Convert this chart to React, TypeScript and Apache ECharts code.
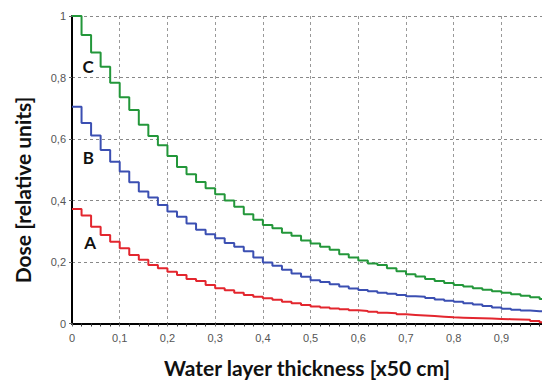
import React, { useEffect, useRef } from "react";
import * as echarts from "echarts";

const thickness = [
  0, 0.02, 0.04, 0.06, 0.08, 0.1, 0.12, 0.14, 0.16, 0.18,
  0.2, 0.22, 0.24, 0.26, 0.28, 0.3, 0.32, 0.34, 0.36, 0.38,
  0.4, 0.42, 0.44, 0.46, 0.48, 0.5, 0.52, 0.54, 0.56, 0.58,
  0.6, 0.62, 0.64, 0.66, 0.68, 0.7, 0.72, 0.74, 0.76, 0.78,
  0.8, 0.82, 0.84, 0.86, 0.88, 0.9, 0.92, 0.94, 0.96, 0.98, 1.0,
];

const doseC = [
  1.0, 0.938, 0.881, 0.835, 0.783, 0.736, 0.694, 0.646, 0.61, 0.58,
  0.545, 0.509, 0.485, 0.46, 0.44, 0.42, 0.4, 0.38, 0.355, 0.337,
  0.32, 0.31, 0.295, 0.285, 0.27, 0.26, 0.25, 0.24, 0.225, 0.215,
  0.205, 0.195, 0.19, 0.18, 0.17, 0.16, 0.153, 0.145, 0.138, 0.132,
  0.125, 0.12, 0.115, 0.11, 0.105, 0.1, 0.095, 0.09, 0.085, 0.08, 0.078,
];

const doseB = [
  0.705, 0.652, 0.611, 0.564, 0.526, 0.494, 0.459, 0.429, 0.41, 0.385,
  0.364, 0.347, 0.325, 0.305, 0.29, 0.277, 0.262, 0.25, 0.235, 0.215,
  0.198, 0.188, 0.175, 0.163, 0.152, 0.141, 0.135, 0.128, 0.12, 0.114,
  0.109, 0.105, 0.1, 0.097, 0.093, 0.089, 0.087, 0.083, 0.078, 0.074,
  0.071, 0.066, 0.062, 0.057, 0.052, 0.048, 0.045, 0.042, 0.04, 0.038, 0.038,
];

const doseA = [
  0.372, 0.351, 0.315, 0.288, 0.266, 0.245, 0.223, 0.207, 0.19, 0.18,
  0.168, 0.158, 0.145, 0.138, 0.125, 0.115, 0.108, 0.1, 0.093, 0.087,
  0.082, 0.077, 0.071, 0.066, 0.06, 0.055, 0.052, 0.049, 0.046, 0.043,
  0.041, 0.038, 0.035, 0.033, 0.03, 0.028, 0.026, 0.024, 0.022, 0.02,
  0.019, 0.018, 0.017, 0.016, 0.015, 0.014, 0.013, 0.012, 0.008, 0.004, 0.004,
];

const seriesNames = ["A", "B", "C"];
const seriesColors = ["#e3262e", "#3b4fb2", "#23973a"];
const labelPos = [
  [0.038, 0.262],
  [0.034, 0.541],
  [0.034, 0.837],
];

const xTitle = "Water layer thickness [x50 cm]";
const yTitle = "Dose [relative units]";

const fmt = (v: number) => String(Math.round(v * 10) / 10).replace(".", ",");

export default function App() {
  const ref = useRef<HTMLDivElement>(null);
  useEffect(() => {
    if (!ref.current) return;
    const chart = echarts.init(ref.current, null, { renderer: "svg" });
    const allData = [doseA, doseB, doseC];
    const series = allData.map((d, i) => ({
      name: seriesNames[i],
      type: "line",
      step: "end",
      showSymbol: false,
      symbol: "none",
      data: thickness.map((x, k) => [x, d[k]]),
      lineStyle: { color: seriesColors[i], width: 2 },
      itemStyle: { color: seriesColors[i] },
      z: 3,
      markPoint: {
        symbol: "circle",
        symbolSize: 0,
        silent: true,
        data: [
          {
            coord: labelPos[i],
            label: {
              show: true,
              position: "inside",
              formatter: seriesNames[i],
              color: "#111",
              fontFamily: "Lato",
              fontWeight: "bold",
              fontSize: 17,
            },
          },
        ],
      },
    }));
    chart.setOption({
      animation: false,
      backgroundColor: "#ffffff",
      grid: { left: 72, right: 0, top: 16, bottom: 61.5, containLabel: false },
      graphic: [
        {
          type: "text",
          x: 22,
          y: 190,
          rotation: Math.PI / 2,
          style: {
            text: yTitle,
            align: "center",
            verticalAlign: "middle",
            fontFamily: "Lato",
            fontWeight: "bold",
            fontSize: 21,
            fill: "#111",
          },
        },
      ],
      xAxis: {
        type: "value",
        min: 0,
        max: 0.985,
        interval: 0.1,
        name: xTitle,
        nameLocation: "middle",
        nameGap: 33,
        nameTextStyle: { fontFamily: "Lato", fontWeight: "bold", fontSize: 21, color: "#111" },
        axisLine: { show: true, lineStyle: { color: "#000", width: 2 } },
        axisTick: { show: true, length: 3, lineStyle: { color: "#666" } },
        minorTick: { show: true, splitNumber: 5, length: 3, lineStyle: { color: "#333" } },
        axisLabel: {
          formatter: fmt,
          showMaxLabel: false,
          color: "#555",
          fontFamily: "Liberation Sans",
          fontSize: 11,
          margin: 9,
        },
        splitLine: { show: true, lineStyle: { color: "#999", type: [3, 3], width: 1 } },
      },
      yAxis: {
        type: "value",
        min: 0,
        max: 1,
        interval: 0.2,
        axisLine: { show: true, lineStyle: { color: "#000", width: 2 } },
        axisTick: { show: true, length: 3, lineStyle: { color: "#666" } },
        axisLabel: {
          formatter: fmt,
          color: "#555",
          fontFamily: "Liberation Sans",
          fontSize: 11,
          margin: 6,
        },
        splitLine: { show: true, lineStyle: { color: "#888", type: [3, 3], width: 1 } },
      },
      series,
    });
    return () => chart.dispose();
  }, []);
  return (
    <div
      ref={ref}
      style={{ width: 542, height: 385, position: "absolute", left: 0, top: 0 }}
    />
  );
}
